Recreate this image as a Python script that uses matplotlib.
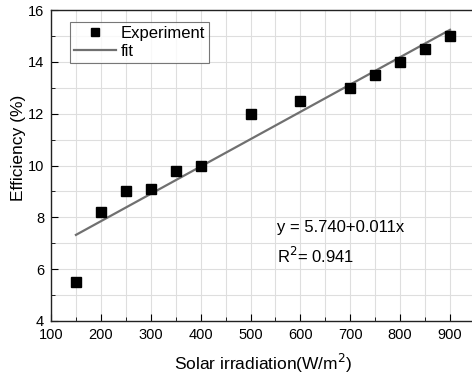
import numpy as np
import matplotlib
matplotlib.use("Agg")
import matplotlib.pyplot as plt
from matplotlib.ticker import MultipleLocator, FixedLocator

plt.rcParams['font.family'] = ['Liberation Sans', 'DejaVu Sans']

# Measured efficiency versus solar irradiation
irradiation = [150, 200, 250, 300, 350, 400, 500, 600, 700, 750, 800, 850, 900]
efficiency = [5.5, 8.2, 9.0, 9.1, 9.8, 10.0, 12.0, 12.5, 13.0, 13.5, 14.0, 14.5, 15.0]
x_ticks = [100, 200, 300, 400, 500, 600, 700, 800, 900]

# Linear fit coefficients
fit_intercept = 5.740
fit_slope = 0.01055
r_squared = 0.941

W, H = 472, 374
fig = plt.figure(figsize=(W / 100, H / 100), dpi=100)
left, bottom, top = 51, 53, 10
width = 399 * 900 / 800
height = H - bottom - top
ax = fig.add_axes([left / W, bottom / H, width / W, height / H])

ax.set_xlim(100, 1000)
ax.set_ylim(4, 16)
ax.xaxis.set_major_locator(FixedLocator(x_ticks))
ax.xaxis.set_minor_locator(MultipleLocator(50))
ax.yaxis.set_major_locator(MultipleLocator(2))
ax.yaxis.set_minor_locator(MultipleLocator(1))
ax.grid(True, which='both', color='#dedede', lw=0.8)
ax.set_axisbelow(True)
ax.tick_params(which='both', direction='in', labelsize=10.5, top=False, right=False)
ax.tick_params(which='major', length=5, pad=5)
ax.tick_params(which='minor', length=3)
for s in ax.spines.values():
    s.set_color('#222222')
    s.set_linewidth(1.0)

xfit = np.array([irradiation[0], irradiation[-1]])
ax.plot(xfit, fit_intercept + fit_slope * xfit, color='#707070', lw=1.6, label='fit', zorder=2)
ax.plot(irradiation, efficiency, 's', color='black', ms=6.5, label='Experiment', zorder=3)

handles, labels = ax.get_legend_handles_labels()
leg = ax.legend(handles[::-1], labels[::-1], loc='upper left',
                bbox_to_anchor=(19 / width, 1 - 12 / height),
                fontsize=12, frameon=True, fancybox=False, edgecolor='#555555',
                borderaxespad=0, handlelength=2.5, handletextpad=0.3, borderpad=0.25,
                labelspacing=0.15, markerscale=0.8)
leg.get_frame().set_linewidth(0.8)

ax.text(553, 7.59, f'y = {fit_intercept:.3f}+{fit_slope:.3f}x', fontsize=12, ha='left', va='center')
ax.text(553, 6.51, f'R$^2$= {r_squared:.3f}', fontsize=12, ha='left', va='center')

ax.set_xlabel('Solar irradiation(W/m$^2$)', fontsize=12.5)
ax.set_ylabel('Efficiency (%)', fontsize=12.5)
ax.xaxis.set_label_coords((263 - left) / width, -31 / height)
ax.yaxis.set_label_coords(-(left - 26) / width, (H - bottom - 148) / height)

fig.savefig('out.png', dpi=100)
